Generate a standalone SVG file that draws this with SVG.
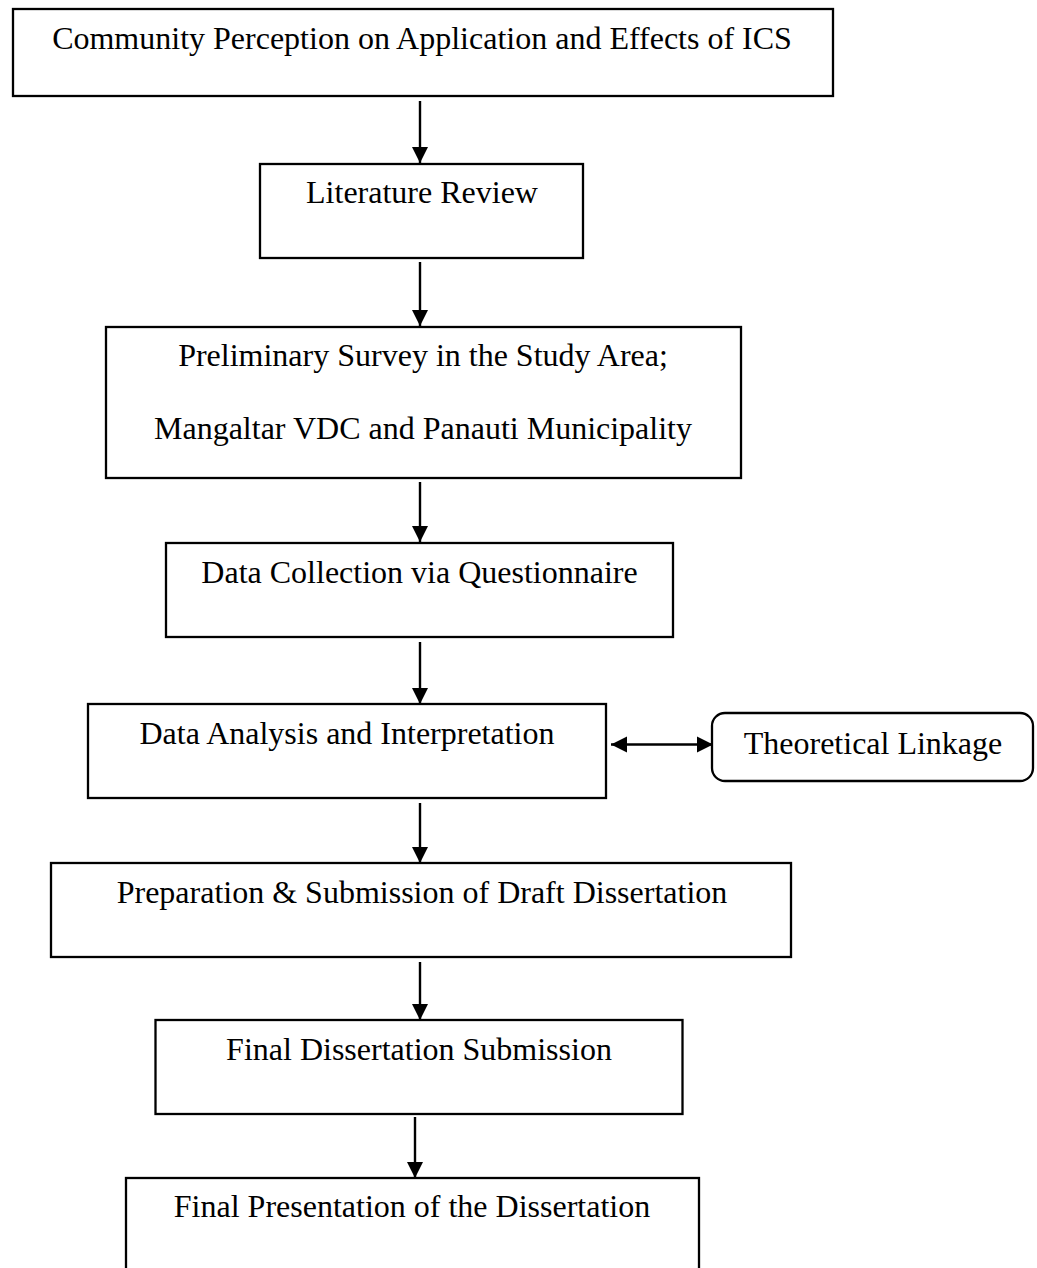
<svg xmlns="http://www.w3.org/2000/svg" width="1037" height="1268" viewBox="0 0 1037 1268">
  <style>
    .box { fill: #ffffff; stroke: #000000; stroke-width: 2.3; }
    .lbl { font-family: "Liberation Serif", "Times New Roman", serif; font-size: 32px; fill: #000000; text-anchor: middle; }
    .edge { stroke: #000000; stroke-width: 2.4; fill: none; }
  </style>
  <defs>
    <!-- solid triangular arrowhead, tip at the line end -->
    <marker id="head" markerUnits="userSpaceOnUse" markerWidth="18" markerHeight="18" viewBox="0 0 18 18" refX="16" refY="9" orient="auto-start-reverse">
      <path d="M0,1 L16,9 L0,17 Z" fill="#000000"/>
    </marker>
  </defs>
  <rect width="1037" height="1268" fill="#ffffff"/>

  <g id="connectors">
    <line class="edge" x1="420" y1="101" x2="420" y2="163" marker-end="url(#head)"/>
    <line class="edge" x1="420" y1="262" x2="420" y2="326" marker-end="url(#head)"/>
    <line class="edge" x1="420" y1="482" x2="420" y2="542" marker-end="url(#head)"/>
    <line class="edge" x1="420" y1="642" x2="420" y2="704" marker-end="url(#head)"/>
    <line class="edge" x1="611" y1="744.5" x2="713" y2="744.5" marker-start="url(#head)" marker-end="url(#head)"/>
    <line class="edge" x1="420" y1="803" x2="420" y2="863" marker-end="url(#head)"/>
    <line class="edge" x1="420" y1="962" x2="420" y2="1020" marker-end="url(#head)"/>
    <line class="edge" x1="415" y1="1117" x2="415" y2="1178" marker-end="url(#head)"/>
  </g>

  <g id="node-perception">
    <rect class="box" x="13" y="9" width="820" height="87"/>
    <text class="lbl" x="422" y="49">Community Perception on Application and Effects of ICS</text>
  </g>
  <g id="node-literature">
    <rect class="box" x="260" y="164" width="323" height="94"/>
    <text class="lbl" x="422" y="203">Literature Review</text>
  </g>
  <g id="node-survey">
    <rect class="box" x="106" y="327" width="635" height="151"/>
    <text class="lbl" x="423" y="366">Preliminary Survey in the Study Area;</text>
    <text class="lbl" x="423" y="439">Mangaltar VDC and Panauti Municipality</text>
  </g>
  <g id="node-collection">
    <rect class="box" x="166" y="543" width="507" height="94"/>
    <text class="lbl" x="419.5" y="583">Data Collection via Questionnaire</text>
  </g>
  <g id="node-analysis">
    <rect class="box" x="88" y="704" width="518" height="94"/>
    <text class="lbl" x="347" y="744">Data Analysis and Interpretation</text>
  </g>
  <g id="node-theory">
    <rect class="box" x="712" y="713" width="321" height="68" rx="13" ry="13"/>
    <text class="lbl" x="873" y="754">Theoretical Linkage</text>
  </g>
  <g id="node-draft">
    <rect class="box" x="51" y="863" width="740" height="94"/>
    <text class="lbl" x="422" y="903">Preparation &amp; Submission of Draft Dissertation</text>
  </g>
  <g id="node-final-submission">
    <rect class="box" x="155.5" y="1020" width="527" height="94"/>
    <text class="lbl" x="419" y="1060">Final Dissertation Submission</text>
  </g>
  <g id="node-presentation">
    <rect class="box" x="126" y="1178" width="573" height="120"/>
    <text class="lbl" x="412" y="1217">Final Presentation of the Dissertation</text>
  </g>
</svg>
